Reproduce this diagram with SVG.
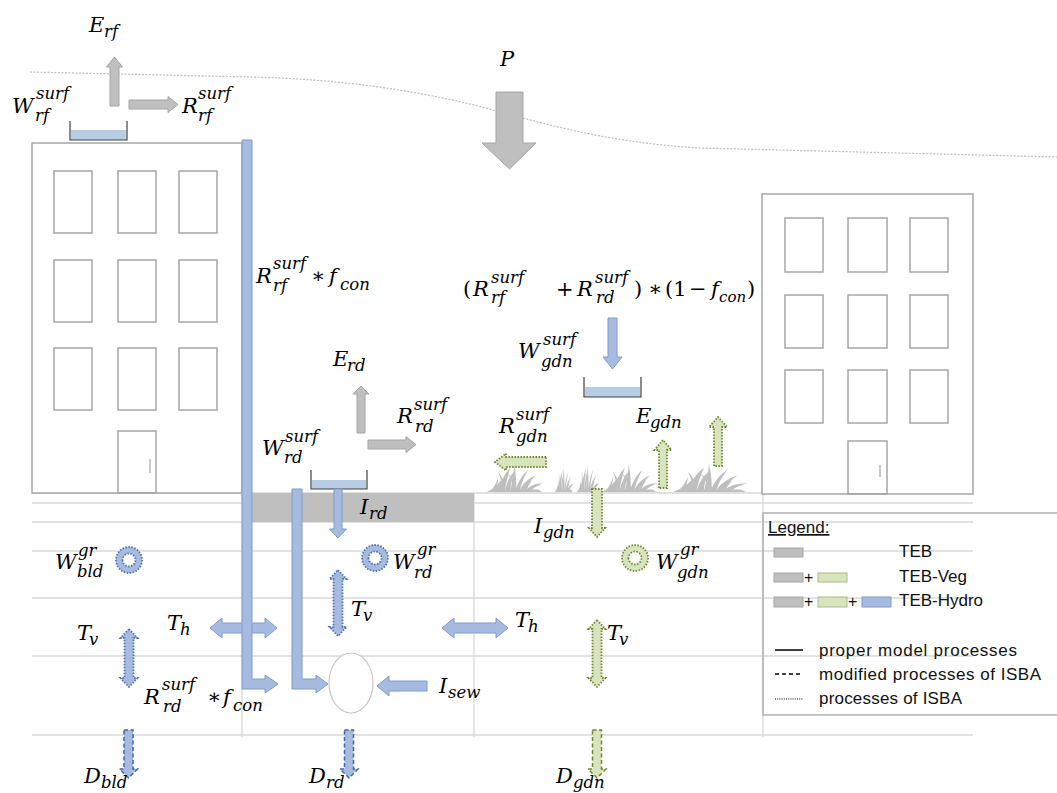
<svg xmlns="http://www.w3.org/2000/svg" xmlns:xlink="http://www.w3.org/1999/xlink" width="1057" height="793" viewBox="0 0 1057 793">
<style>
.bg{fill:#fff}
.grid{stroke:#d9d9d9;stroke-width:1.3;fill:none}
.bld{fill:#fff;stroke:#a6a6a6;stroke-width:1.5}
.win{fill:none;stroke:#a6a6a6;stroke-width:1.5}
.ga{fill:#bfbfbf;stroke:#a5a5a5;stroke-width:1}
.ba{fill:#a7bbe0;stroke:#7f9bcb;stroke-width:1}
.bdot{fill:#a7bbe0;stroke:#4a72b0;stroke-width:1.8;stroke-dasharray:1.5 1.5}
.bdash{fill:#a7bbe0;stroke:#3f66a6;stroke-width:1.5;stroke-dasharray:4 2.5}
.gdot{fill:#d7e4bd;stroke:#6b8a2e;stroke-width:1.8;stroke-dasharray:1.5 1.5}
.gdash{fill:#d7e4bd;stroke:#6b8a2e;stroke-width:1.5;stroke-dasharray:4 2.5}
.bucket{fill:none;stroke:#404040;stroke-width:1.2}
.water{fill:#b8cce4}
.m{font-family:"DejaVu Serif","Liberation Serif",serif;font-style:italic;font-size:21px;fill:#000}
.s{font-family:"DejaVu Serif","Liberation Serif",serif;font-style:italic;font-size:16.5px;fill:#000}
.u{font-family:"DejaVu Serif","Liberation Serif",serif;font-style:normal;font-size:21px;fill:#000}
.lg{font-family:"Liberation Sans","Arial",sans-serif;font-size:17px;fill:#111}
</style>
<defs>
<symbol id="grass" viewBox="0 0 60 30" preserveAspectRatio="none">
<g fill="#bfbfbf">
<path d="M0,30 C6,27 11,24 15,19 C12,24 9,28 7,30Z"/>
<path d="M4,30 C7,25 10,22 12,14 C12,21 10,26 9,30Z"/>
<path d="M6,30 C10,23 15,17 21,13 C17,19 14,25 13,30Z"/>
<path d="M12,30 C14,20 19,11 25,5 C22,14 20,22 19,30Z"/>
<path d="M16,30 C16,22 15,16 12,9 C17,15 19,22 20,30Z"/>
<path d="M19,30 C21,20 25,12 31,7 C27,15 25,22 25,30Z"/>
<path d="M25,30 C27,18 29,9 29,1 C31,11 32,21 31,30Z"/>
<path d="M28,30 C29,22 26,15 21,10 C27,14 31,21 33,30Z"/>
<path d="M30,30 C33,20 38,12 44,7 C39,16 36,23 35,30Z"/>
<path d="M34,30 C38,22 44,16 52,13 C46,19 42,25 41,30Z"/>
<path d="M37,30 C40,24 44,21 48,18 C45,22 43,26 42,30Z"/>
<path d="M39,30 C45,24 51,21 60,21 C53,24 48,27 46,30Z"/>
<path d="M1,30 L59,30 L55,27.5 L5,27.5Z"/>
</g>
</symbol>
</defs>
<rect class="bg" x="0" y="0" width="1057" height="793"/>

<!-- horizon -->
<path d="M30,72 L250,77 C340,79 410,90 470,104 C540,122 600,142 700,148 L1057,157" fill="none" stroke="#bdbdbd" stroke-width="1.2" stroke-dasharray="2 1.5"/>

<!-- ground grid -->
<g id="ground" class="grid">
<line x1="32" y1="493" x2="973" y2="493"/>
<line x1="32" y1="503" x2="973" y2="503"/>
<line x1="32" y1="522" x2="973" y2="522"/>
<line x1="32" y1="551" x2="973" y2="551"/>
<line x1="32" y1="598" x2="973" y2="598"/>
<line x1="32" y1="656" x2="973" y2="656"/>
<line x1="32" y1="735" x2="973" y2="735"/>
<line x1="242" y1="493" x2="242" y2="737"/>
<line x1="474" y1="493" x2="474" y2="737"/>
<line x1="763" y1="494" x2="763" y2="737"/>
</g>

<!-- road -->
<g id="road"><rect x="252" y="493" width="222" height="29" fill="#bfbfbf"/></g>

<!-- left building -->
<g id="building-left">
<rect class="bld" x="32" y="143" width="210" height="350"/>
<rect class="win" x="54" y="171" width="38" height="62"/>
<rect class="win" x="118" y="171" width="38" height="62"/>
<rect class="win" x="179" y="171" width="38" height="62"/>
<rect class="win" x="54" y="260" width="38" height="62"/>
<rect class="win" x="118" y="260" width="38" height="62"/>
<rect class="win" x="179" y="260" width="38" height="62"/>
<rect class="win" x="54" y="348" width="38" height="62"/>
<rect class="win" x="118" y="348" width="38" height="62"/>
<rect class="win" x="179" y="348" width="38" height="62"/>
<rect class="win" x="118" y="431" width="38" height="62"/>
<line x1="150" y1="459" x2="150" y2="473" stroke="#a6a6a6" stroke-width="1.2"/>
</g>

<!-- right building -->
<g id="building-right">
<rect class="bld" x="762" y="194" width="211" height="300"/>
<rect class="win" x="785" y="218" width="38" height="54"/>
<rect class="win" x="848" y="218" width="39" height="54"/>
<rect class="win" x="910" y="218" width="38" height="54"/>
<rect class="win" x="785" y="295" width="38" height="53"/>
<rect class="win" x="848" y="295" width="39" height="53"/>
<rect class="win" x="910" y="295" width="38" height="53"/>
<rect class="win" x="785" y="370" width="38" height="53"/>
<rect class="win" x="848" y="370" width="39" height="53"/>
<rect class="win" x="910" y="370" width="38" height="53"/>
<rect class="win" x="848" y="441" width="39" height="53"/>
<line x1="880" y1="465" x2="880" y2="477" stroke="#a6a6a6" stroke-width="1.2"/>
</g>

<!-- grass -->
<g id="garden-grass">
<use xlink:href="#grass" href="#grass" x="487" y="463" width="56" height="29"/>
<use xlink:href="#grass" href="#grass" x="555" y="466" width="18" height="26"/>
<use xlink:href="#grass" href="#grass" x="577" y="463" width="22" height="29"/>
<use xlink:href="#grass" href="#grass" x="602" y="463" width="55" height="29"/>
<use xlink:href="#grass" href="#grass" x="673" y="463" width="74" height="29"/>
</g>

<!-- buckets -->
<g id="bucket-roof"><rect class="water" x="71" y="130" width="55" height="10"/><path class="bucket" d="M70,121 V140 H127 V121"/></g>
<g id="bucket-road"><rect class="water" x="312" y="480" width="54" height="9"/><path class="bucket" d="M311,470 V489 H367 V470"/></g>
<g id="bucket-garden"><rect class="water" x="585" y="387" width="55" height="10"/><path class="bucket" d="M584,377 V397 H641 V377"/></g>

<!-- sewer -->
<g id="sewer"><ellipse cx="351" cy="683" rx="22" ry="30" fill="#fff" stroke="#c8c8c8" stroke-width="1.2"/></g>

<!-- storage rings -->
<g id="ring-bld"><path class="bdot" fill-rule="evenodd" d="M116,560 a13,13 0 1,0 26,0 a13,13 0 1,0 -26,0Z M122.5,560 a6.5,6.5 0 1,0 13,0 a6.5,6.5 0 1,0 -13,0Z"/></g>
<g id="ring-rd"><path class="bdot" fill-rule="evenodd" d="M362,558 a13,13 0 1,0 26,0 a13,13 0 1,0 -26,0Z M368.5,558 a6.5,6.5 0 1,0 13,0 a6.5,6.5 0 1,0 -13,0Z"/></g>
<g id="ring-gdn"><path class="gdot" fill-rule="evenodd" d="M622,558 a13,13 0 1,0 26,0 a13,13 0 1,0 -26,0Z M628.5,558 a6.5,6.5 0 1,0 13,0 a6.5,6.5 0 1,0 -13,0Z"/></g>

<!-- connectors -->
<g id="connectors">
<polygon class="ga" points="110,106 110,67 106.5,67 114.5,57 122.5,67 119,67 119,106"/>
<polygon class="ga" points="129,100 168,100 168,96.5 178,104.5 168,112.5 168,109 129,109"/>
<polygon class="ga" points="496,92 523,92 523,143 536,143 509.5,169 482,143 496,143"/>
<polygon class="ga" points="357,433 357,394 353,394 361,386 369,394 365,394 365,433"/>
<polygon class="ga" points="368,440 406,440 406,436.5 416,444.5 406,452.5 406,449 368,449"/>
<polygon class="ba" points="210,628 222,618 222,623 265,623 265,618 277,628 265,638 265,633 222,633 222,638"/>
<polygon class="ba" points="442,628 454,618 454,623 496,623 496,618 508,628 496,638 496,633 454,633 454,638"/>
<polygon class="ba" points="242,140 252,140 252,679 265,679 265,675 278,684 265,693 265,689 242,689"/>
<polygon class="ba" points="292,489 302,489 302,679 316,679 316,675 328,684 316,693 316,689 292,689"/>
<polygon class="ba" points="427,681 389,681 389,676 377,686 389,696 389,691 427,691"/>
<polygon class="ba" points="608,318 617,318 617,357 622,357 612.5,369 603,357 608,357"/>
<polygon class="ba" points="334,489 342,489 342,529 346.5,529 338,538 329.5,529 334,529"/>
<polygon class="bdot" points="129,629 137.5,638 133.5,638 133.5,678 137.5,678 129,687 120.5,678 124.5,678 124.5,638 120.5,638"/>
<polygon class="bdot" points="338,570 346.5,579 342.5,579 342.5,627 346.5,627 338,636 329.5,627 333.5,627 333.5,579 329.5,579"/>
<polygon class="bdash" points="124,730 133,730 133,769 137.5,769 128.5,778 119.5,769 124,769"/>
<polygon class="bdash" points="344.5,730 353.5,730 353.5,769 358,769 349,778 340,769 344.5,769"/>
<polygon class="gdot" points="546,457 506,457 506,453.5 495,462 506,470.5 506,467 546,467"/>
<polygon class="gdot" points="659,488 659,450 654.5,450 663,440 671.5,450 667,450 667,488"/>
<polygon class="gdot" points="714,466 714,427 709,427 718,417 727,427 722,427 722,466"/>
<polygon class="gdot" points="592,489 602,489 602,528 605,528 597,537 589,528 592,528"/>
<polygon class="gdot" points="597,620 605.5,629 601.5,629 601.5,678 605.5,678 597,687 588.5,678 592.5,678 592.5,629 588.5,629"/>
<polygon class="gdash" points="592.5,730 601.5,730 601.5,769 606,769 597,778 588,769 592.5,769"/>
</g>

<!-- labels -->
<g id="labels">
<text class="m" x="89" y="32">E</text><text class="s" x="104" y="37">rf</text>
<text class="m" x="12" y="113">W</text><text class="s" x="36" y="99">surf</text><text class="s" x="35" y="121">rf</text>
<text class="m" x="182" y="113">R</text><text class="s" x="198" y="99">surf</text><text class="s" x="198" y="121">rf</text>
<text class="m" x="500" y="66">P</text>

<text class="m" x="256" y="283">R</text><text class="s" x="273" y="269">surf</text><text class="s" x="273" y="291">rf</text><text class="u" x="311" y="283">∗</text><text class="m" x="329" y="283">f</text><text class="s" x="340" y="290">con</text>

<text class="u" x="463" y="296">(</text><text class="m" x="473" y="296">R</text><text class="s" x="491" y="283">surf</text><text class="s" x="491" y="303">rf</text>
<text class="u" x="556" y="296">+</text><text class="m" x="577" y="296">R</text><text class="s" x="595" y="283">surf</text><text class="s" x="596" y="303">rd</text>
<text class="u" x="634" y="296">)</text><text class="u" x="648" y="296">∗</text><text class="u" x="665" y="296">(1</text><text class="u" x="689" y="296">−</text><text class="m" x="711" y="296">f</text><text class="s" x="719" y="302" style="font-size:15px">con</text><text class="u" x="747" y="296">)</text>

<text class="m" x="518" y="358">W</text><text class="s" x="543" y="345">surf</text><text class="s" x="541" y="367">gdn</text>

<text class="m" x="333" y="366">E</text><text class="s" x="347" y="371">rd</text>
<text class="m" x="397" y="423">R</text><text class="s" x="414" y="410">surf</text><text class="s" x="415" y="432">rd</text>
<text class="m" x="262" y="455">W</text><text class="s" x="285" y="442">surf</text><text class="s" x="284" y="463">rd</text>
<text class="m" x="360" y="514">I</text><text class="s" x="369" y="519">rd</text>

<text class="m" x="499" y="433">R</text><text class="s" x="516" y="420">surf</text><text class="s" x="516" y="442">gdn</text>
<text class="m" x="636" y="423">E</text><text class="s" x="650" y="428">gdn</text>
<text class="m" x="534" y="533">I</text><text class="s" x="543" y="538">gdn</text>

<text class="m" x="55" y="569">W</text><text class="s" x="78" y="556">gr</text><text class="s" x="77" y="577">bld</text>
<text class="m" x="393" y="569">W</text><text class="s" x="417" y="555">gr</text><text class="s" x="414" y="578">rd</text>
<text class="m" x="656" y="569">W</text><text class="s" x="680" y="555">gr</text><text class="s" x="677" y="578">gdn</text>

<text class="m" x="77" y="640">T</text><text class="s" x="89" y="645">v</text>
<text class="m" x="167" y="630">T</text><text class="s" x="180" y="635">h</text>
<text class="m" x="351" y="616">T</text><text class="s" x="363" y="621">v</text>
<text class="m" x="515" y="627">T</text><text class="s" x="528" y="632">h</text>
<text class="m" x="607" y="640">T</text><text class="s" x="619" y="645">v</text>

<text class="m" x="439" y="693">I</text><text class="s" x="448" y="698">sew</text>

<text class="m" x="144" y="704">R</text><text class="s" x="162" y="690">surf</text><text class="s" x="163" y="712">rd</text><text class="u" x="207" y="704">∗</text><text class="m" x="223" y="704">f</text><text class="s" x="233" y="711">con</text>

<text class="m" x="84" y="783">D</text><text class="s" x="101" y="788">bld</text>
<text class="m" x="309" y="783">D</text><text class="s" x="326" y="788">rd</text>
<text class="m" x="556" y="783">D</text><text class="s" x="573" y="788">gdn</text>
</g>

<!-- legend -->
<g id="legend">
<rect x="763" y="513" width="300" height="202" fill="none" stroke="#b0b0b0" stroke-width="1.5"/>
<text class="lg" x="768" y="533" text-decoration="underline">Legend:</text>
<rect x="774" y="548" width="29" height="9" fill="#bfbfbf" stroke="#a5a5a5"/>
<text class="lg" x="899" y="557">TEB</text>
<rect x="774" y="573" width="29" height="9" fill="#bfbfbf" stroke="#a5a5a5"/>
<text class="lg" x="804" y="583" style="font-size:16px">+</text>
<rect x="818" y="573" width="29" height="9" fill="#d7e4bd" stroke="#a9b98a"/>
<text class="lg" x="899" y="582">TEB-Veg</text>
<rect x="774" y="597" width="29" height="10" fill="#bfbfbf" stroke="#a5a5a5"/>
<text class="lg" x="804" y="607" style="font-size:16px">+</text>
<rect x="818" y="597" width="29" height="10" fill="#d7e4bd" stroke="#a9b98a"/>
<text class="lg" x="848" y="607" style="font-size:16px">+</text>
<rect x="862" y="597" width="29" height="10" fill="#a7bbe0" stroke="#7f9bcb"/>
<text class="lg" x="899" y="606">TEB-Hydro</text>
<line x1="775" y1="650" x2="803" y2="650" stroke="#000" stroke-width="1.5"/>
<text class="lg" x="819" y="656" textLength="198">proper model processes</text>
<line x1="775" y1="674" x2="803" y2="674" stroke="#000" stroke-width="1.5" stroke-dasharray="4 3"/>
<text class="lg" x="819" y="680" textLength="222">modified processes of ISBA</text>
<line x1="775" y1="699" x2="803" y2="699" stroke="#000" stroke-width="1" stroke-dasharray="1 1.2"/>
<text class="lg" x="819" y="704" textLength="143">processes of ISBA</text>
</g>
</svg>
